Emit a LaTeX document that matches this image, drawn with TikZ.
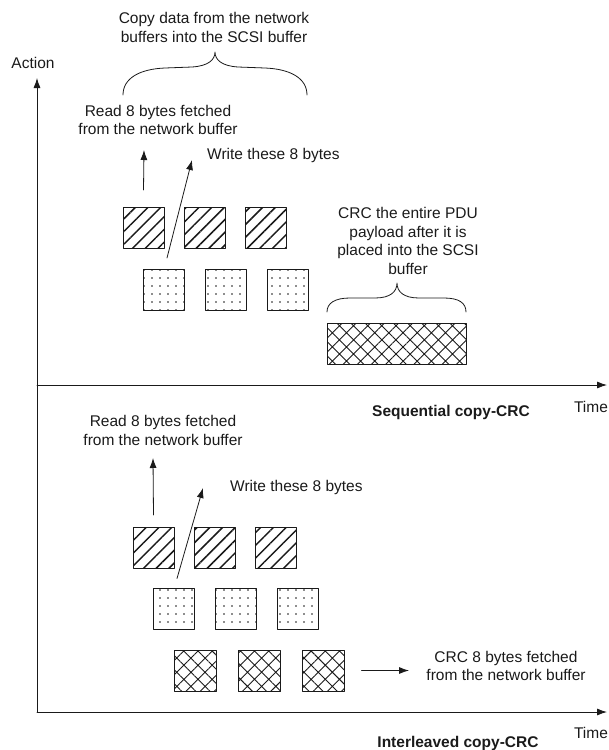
\documentclass[tikz,border=0pt]{standalone}
\usepackage{fontspec}
\setmainfont{Liberation Sans}
\usetikzlibrary{arrows.meta,positioning,patterns.meta}
\definecolor{ink}{HTML}{1A1A1A}
\tikzset{
    every picture/.style={line cap=round,line join=round},
    cell/.style={draw=ink,line width=0.9pt,minimum width=41pt,minimum height=41pt,
      inner sep=0pt,outer sep=0pt},
    readcell/.style={cell,pattern={Lines[angle=45,distance=9pt,line width=1.5pt]},
      pattern color=ink},
    writecell/.style={cell,pattern={Dots[distance=8pt,radius=0.95pt]},pattern color=ink},
    crccell/.style={cell,pattern={Hatch[angle=45,distance=10pt,line width=0.9pt]},
      pattern color=ink},
    note/.style={align=center,inner sep=0pt,text=ink},
    axisline/.style={-{Latex[length=10pt,width=7pt]},draw=ink,line width=0.8pt},
    flowarrow/.style={-{Latex[length=10pt,width=7pt]},draw=ink,line width=0.8pt},
    bracket/.style={draw=ink,line width=0.8pt}
}

\begin{document}
\begin{tikzpicture}[x=1pt,y=-1pt,font=\fontsize{15.5}{18.7}\selectfont]
  \useasboundingbox (0,0) rectangle (609,750);
  % axes
  \coordinate (origin) at (37,712);
  \coordinate (atop) at (37,78);
  \coordinate (sstart) at (37,385);
  \coordinate (send) at (607,385);
  \coordinate (iend) at (607,712);
  \draw[axisline] (origin) -- (atop);
  \draw[axisline] (sstart) -- (send);
  \draw[axisline] (origin) -- (iend);
  \node[note] (actionlbl) at (33,63) {Action};
  \node[note] (stimelbl) at (591,407) {Time};
  \node[note] (itimelbl) at (591,733) {Time};
  \node[note,font=\fontsize{15.5}{18.7}\selectfont\bfseries] (seqlbl) at (451,412) {Sequential copy-CRC};
  \node[note,font=\fontsize{15.5}{18.7}\selectfont\bfseries] (intlbl) at (458,743) {Interleaved copy-CRC};

  % sequential copy-CRC
  \node[readcell] (sr1) at (143.5,227.5) {};
  \node[readcell,right=20pt of sr1] (sr2) {};
  \node[readcell,right=20pt of sr2] (sr3) {};
  \node[writecell] (sw1) at (163.5,289.5) {};
  \node[writecell,right=21pt of sw1] (sw2) {};
  \node[writecell,right=21pt of sw2] (sw3) {};
  \node[crccell,minimum width=139pt] (scrc) at (396.5,343.5) {};
  \node[note] (copylbl) at (214,27.5) {Copy data from the network\\buffers into the SCSI buffer};
  \node[note] (sreadlbl) at (158,120) {Read 8 bytes fetched\\from the network buffer};
  \node[note,anchor=west] (swritelbl) at (207,155) {Write these 8 bytes};
  \node[note] (crclbl) at (408,241) {CRC the entire PDU\\payload after it is\\placed into the SCSI\\buffer};
  \coordinate (sreadtip) at (144,150);
  \coordinate (swritetip) at (192,160);
  \draw[flowarrow] ([yshift=17pt]sr1.north) -- (sreadtip);
  \draw[flowarrow] ([shift={(24pt,11pt)}]sw1.north west) -- (swritetip);
  \draw[bracket] (123,95) .. controls (123,78) and (140,69) .. (165,68) -- (192,67)
    .. controls (208,66) and (215,60) .. (215,52)
    .. controls (215,60) and (222,66) .. (238,67) -- (265,68)
    .. controls (290,69) and (307,78) .. (307,95);
  \draw[bracket] (327,312) .. controls (327,303) and (335,298) .. (350,298) -- (375,298)
    .. controls (390,298) and (397,292) .. (397,283)
    .. controls (397,292) and (404,298) .. (419,298) -- (444,298)
    .. controls (459,298) and (466,303) .. (466,312);

  % interleaved copy-CRC
  \node[readcell] (ir1) at (153.5,547.5) {};
  \node[readcell,right=20pt of ir1] (ir2) {};
  \node[readcell,right=20pt of ir2] (ir3) {};
  \node[writecell] (iw1) at (173.5,609) {};
  \node[writecell,right=21pt of iw1] (iw2) {};
  \node[writecell,right=21pt of iw2] (iw3) {};
  \node[crccell,minimum width=42pt] (ic1) at (195.5,670.5) {};
  \node[crccell,minimum width=42pt,right=22pt of ic1] (ic2) {};
  \node[crccell,minimum width=42pt,right=22pt of ic2] (ic3) {};
  \node[note] (ireadlbl) at (163,430.5) {Read 8 bytes fetched\\from the network buffer};
  \node[note,anchor=west] (iwritelbl) at (230,487) {Write these 8 bytes};
  \node[note] (icrclbl) at (506,666) {CRC 8 bytes fetched\\from the network buffer};
  \coordinate (ireadtip) at (153,458);
  \coordinate (iwritetip) at (203,488);
  \coordinate (icrctip) at (409,670.5);
  \draw[flowarrow] ([yshift=12pt]ir1.north) -- (ireadtip);
  \draw[flowarrow] ([shift={(24pt,10pt)}]iw1.north west) -- (iwritetip);
  \draw[flowarrow] ([xshift=17pt]ic3.east) -- (icrctip);
\end{tikzpicture}
\end{document}
